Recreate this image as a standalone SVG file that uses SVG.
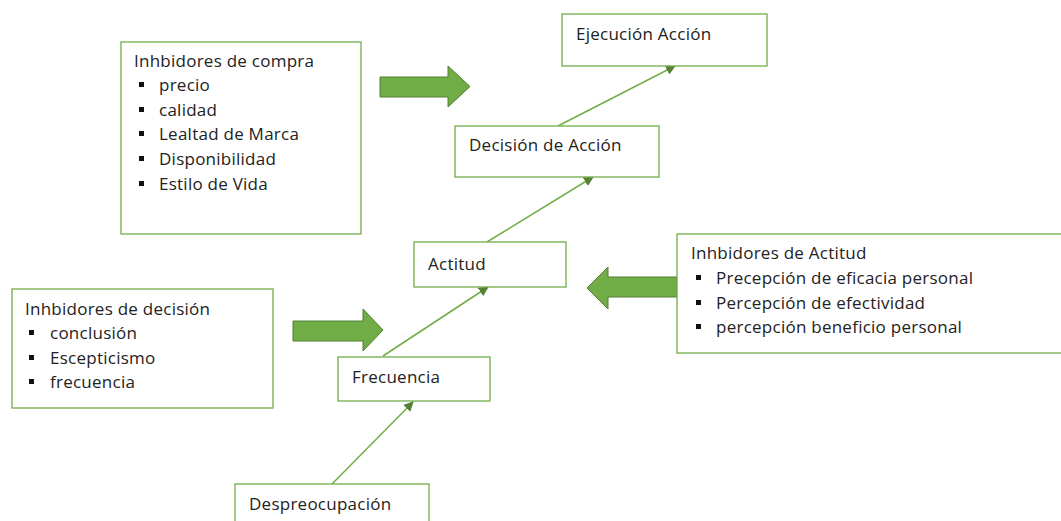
<svg xmlns="http://www.w3.org/2000/svg" width="1061" height="521" viewBox="0 0 1061 521">
<style>
.box{fill:#fff;stroke:#70AD47;stroke-width:1.3}
.t{font-family:"Open Sans","Liberation Sans",Arial,sans-serif;font-size:17px;letter-spacing:0.25px;fill:#222}
.bul{fill:#111}
.con{stroke:#70AD47;stroke-width:1.5;fill:none}
.big{fill:#70AD47;stroke:#507E32;stroke-width:1}
</style>
<defs>
<marker id="ah" viewBox="0 0 10 10" refX="9" refY="5" markerWidth="10" markerHeight="10" markerUnits="userSpaceOnUse" orient="auto">
<path d="M0,0 L10,5 L0,10 z" fill="#548235"/>
</marker>
</defs>
<rect width="1061" height="521" fill="#fff"/>

<g id="connectors">
<line class="con" x1="558" y1="126" x2="675" y2="66" marker-end="url(#ah)"/>
<line class="con" x1="487" y1="242" x2="593" y2="177" marker-end="url(#ah)"/>
<line class="con" x1="383" y1="356" x2="488" y2="287" marker-end="url(#ah)"/>
<line class="con" x1="332" y1="484" x2="413" y2="402" marker-end="url(#ah)"/>
<path class="big" d="M380,77 H448 V66 L470,86.5 L448,107 V97 H380 Z"/>
<path class="big" d="M293,321 H363 V309 L383,330 L363,351 V341 H293 Z"/>
<path class="big" d="M677,277 H608 V267 L587,288 L608,309 V297 H677 Z"/>
</g>

<g id="inhib-compra">
<rect class="box" x="121" y="42" width="240" height="192"/>
<text class="t" x="134" y="67">Inhbidores de compra</text>
<rect class="bul" x="139" y="82" width="5" height="5"/><text class="t" x="159" y="91">precio</text>
<rect class="bul" x="139" y="107" width="5" height="5"/><text class="t" x="159" y="116">calidad</text>
<rect class="bul" x="139" y="131" width="5" height="5"/><text class="t" x="159" y="140">Lealtad de Marca</text>
<rect class="bul" x="139" y="156" width="5" height="5"/><text class="t" x="159" y="165">Disponibilidad</text>
<rect class="bul" x="139" y="181" width="5" height="5"/><text class="t" x="159" y="190">Estilo de Vida</text>
</g>

<g id="ejecucion">
<rect class="box" x="562" y="14" width="205" height="52"/>
<text class="t" x="576" y="40">Ejecución Acción</text>
</g>

<g id="decision">
<rect class="box" x="455" y="126" width="204" height="51"/>
<text class="t" x="469" y="151">Decisión de Acción</text>
</g>

<g id="actitud">
<rect class="box" x="414" y="242" width="152" height="45"/>
<text class="t" x="428" y="270">Actitud</text>
</g>

<g id="inhib-actitud">
<rect class="box" x="677" y="234" width="386" height="119"/>
<text class="t" x="691" y="259">Inhbidores de Actitud</text>
<rect class="bul" x="696" y="275" width="5" height="5"/><text class="t" x="716" y="284">Precepción de eficacia personal</text>
<rect class="bul" x="696" y="300" width="5" height="5"/><text class="t" x="716" y="309">Percepción de efectividad</text>
<rect class="bul" x="696" y="324" width="5" height="5"/><text class="t" x="716" y="333">percepción beneficio personal</text>
</g>

<g id="inhib-decision">
<rect class="box" x="12" y="289" width="261" height="119"/>
<text class="t" x="25" y="315">Inhbidores de decisión</text>
<rect class="bul" x="29" y="330" width="5" height="5"/><text class="t" x="50" y="339">conclusión</text>
<rect class="bul" x="29" y="355" width="5" height="5"/><text class="t" x="50" y="364">Escepticismo</text>
<rect class="bul" x="29" y="379" width="5" height="5"/><text class="t" x="50" y="388">frecuencia</text>
</g>

<g id="frecuencia">
<rect class="box" x="338" y="357" width="152" height="44"/>
<text class="t" x="352" y="383">Frecuencia</text>
</g>

<g id="despreocupacion">
<rect class="box" x="235" y="484" width="194" height="50"/>
<text class="t" x="249" y="510">Despreocupación</text>
</g>
</svg>
